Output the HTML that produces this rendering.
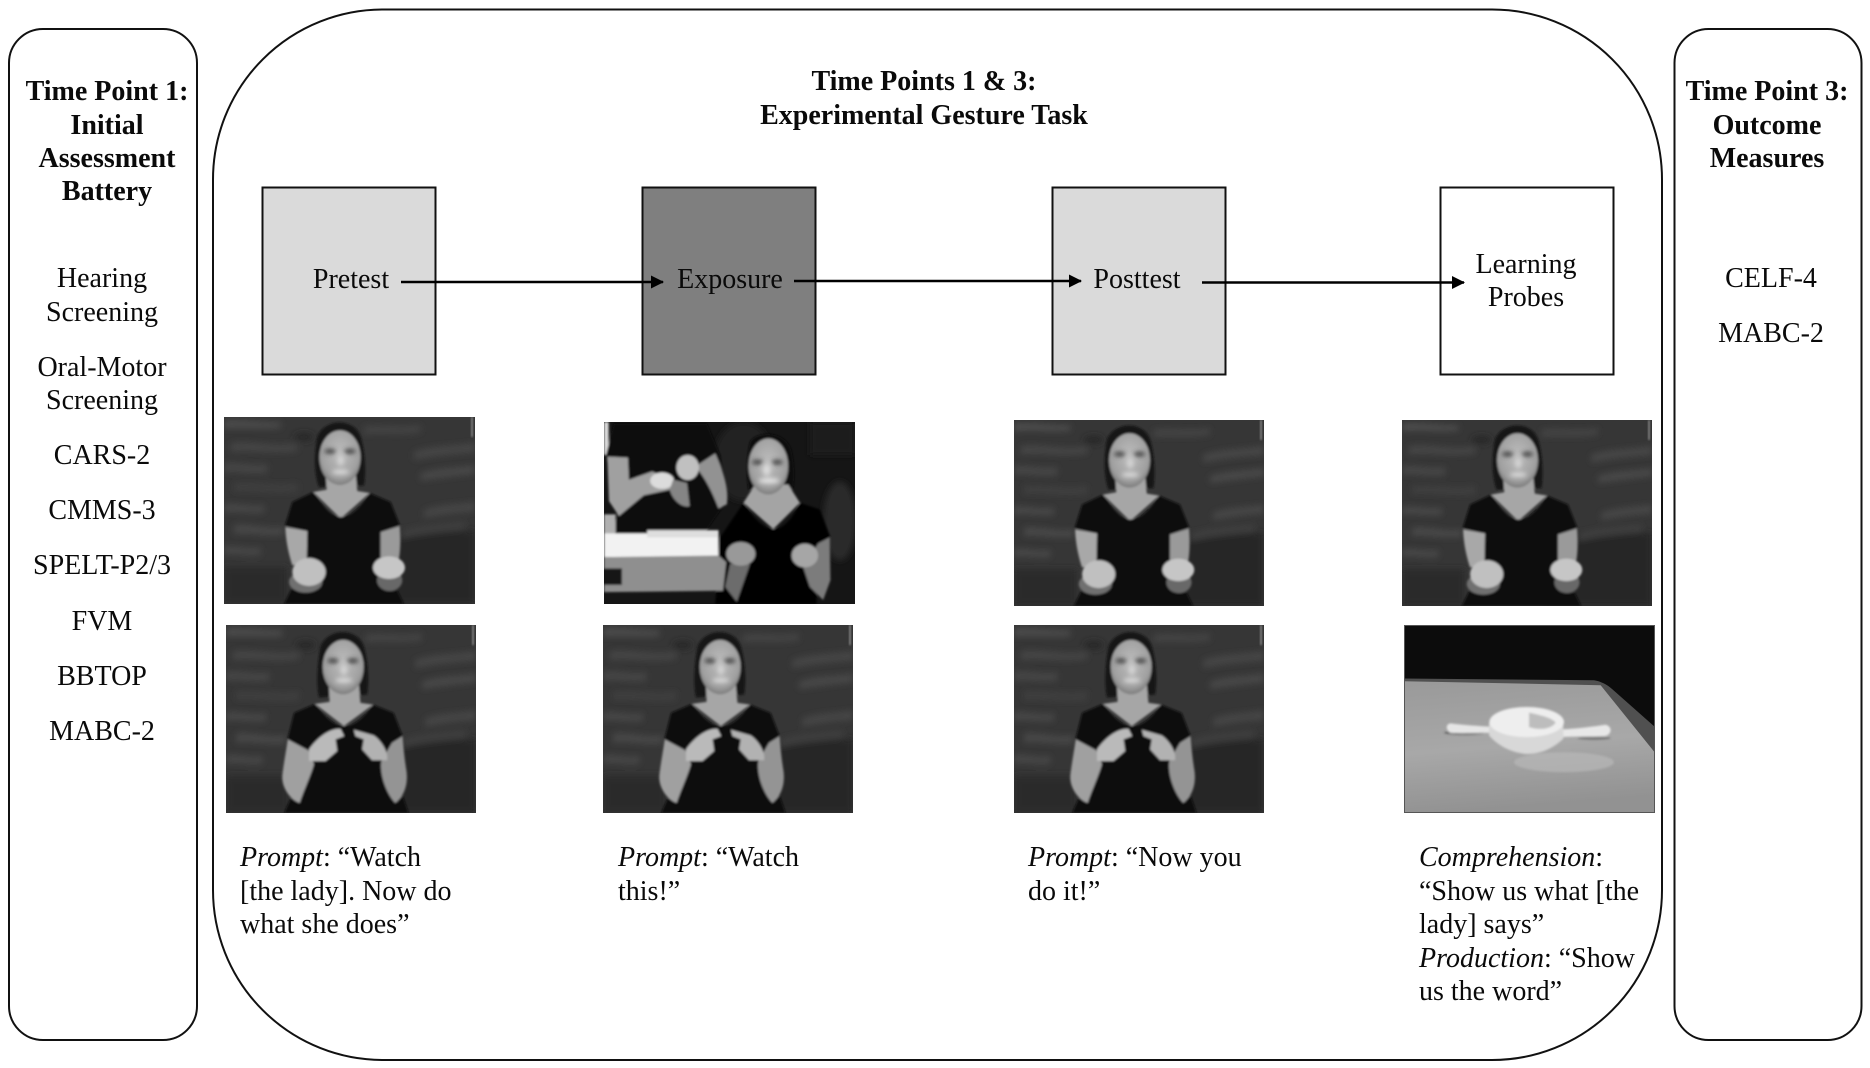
<!DOCTYPE html>
<html><head><meta charset="utf-8"><title>Experimental Gesture Task</title>
<style>
html,body{margin:0;padding:0;background:#fff;width:1870px;height:1068px;overflow:hidden}
svg{display:block}
text{font-family:"Liberation Serif",serif;font-size:28px;fill:#0a0a0a}
.b{font-weight:bold}
.m{text-anchor:middle}
</style></head><body>
<svg width="1870" height="1068" viewBox="0 0 1870 1068" xmlns="http://www.w3.org/2000/svg">
<defs>
<filter id="b1" x="-5%" y="-5%" width="110%" height="110%"><feGaussianBlur stdDeviation="3.5"/></filter>
<filter id="b3" x="-40%" y="-40%" width="180%" height="180%"><feGaussianBlur stdDeviation="7"/></filter>
<filter id="b2" x="-20%" y="-40%" width="140%" height="180%"><feGaussianBlur stdDeviation="10"/></filter>
<linearGradient id="tb" x1="0" y1="0" x2="0.15" y2="1"><stop offset="0" stop-color="#999"/><stop offset=".55" stop-color="#a8a8a8"/><stop offset="1" stop-color="#929292"/></linearGradient>
<radialGradient id="face" cx=".5" cy=".42" r=".6"><stop offset="0" stop-color="#bdbdbd"/><stop offset=".75" stop-color="#a0a0a0"/><stop offset="1" stop-color="#787878"/></radialGradient>
<marker id="ah" markerUnits="userSpaceOnUse" markerWidth="14" markerHeight="14" refX="12" refY="6.5" orient="auto"><path d="M0,0L13,6.5L0,13z" fill="#000"/></marker>

<symbol id="bg" viewBox="0 0 753 561" preserveAspectRatio="none">
<rect width="753" height="561" fill="#363636"/>
<g filter="url(#b2)">
<rect x="430" y="340" width="323" height="221" fill="#282828"/>
<rect x="0" y="450" width="190" height="111" fill="#2b2b2b"/>
<path d="M0,10C60,5 130,20 170,15L170,32C110,36 50,30 0,34Z" fill="#4d4d4d"/>
<path d="M20,80C80,70 160,95 220,80L220,100C150,112 70,95 20,104Z" fill="#474747"/>
<path d="M0,140C40,135 90,150 130,142L130,165C80,172 40,160 0,165Z" fill="#464646"/>
<path d="M30,200C90,195 170,210 220,200L220,222C150,230 90,218 30,222Z" fill="#414141"/>
<path d="M0,262C40,258 80,272 120,265L120,285C70,290 40,280 0,285Z" fill="#4a4a4a"/>
<path d="M30,325C90,320 130,340 180,330L180,352C120,358 80,345 30,350Z" fill="#484848"/>
<path d="M0,390C40,385 70,400 110,392L110,412C70,418 30,405 0,412Z" fill="#4a4a4a"/>
<path d="M570,105C630,85 690,90 753,78L753,105C690,110 630,115 570,128Z" fill="#474747"/>
<path d="M590,170C650,150 700,155 753,145L753,170C700,175 650,182 590,190Z" fill="#484848"/>
<path d="M600,280C650,262 700,265 753,255L753,282C700,285 650,292 600,302Z" fill="#474747"/>
<path d="M530,345C590,325 650,325 720,315L720,338C650,345 590,350 530,365Z" fill="#3f3f3f"/>
<path d="M420,30C470,22 530,35 590,25L590,45C530,55 470,45 420,52Z" fill="#454545"/>
<ellipse cx="240" cy="60" rx="30" ry="12" fill="#262626"/>
</g>
<rect x="740" y="0" width="8" height="60" fill="#777" filter="url(#b1)"/>
</symbol>

<symbol id="poseA" viewBox="0 0 753 561" preserveAspectRatio="none">
<use href="#bg" width="753" height="561"/>
<g filter="url(#b1)">
<path d="M280,60C300,5 390,0 410,60C425,110 425,170 420,205L285,210C270,170 270,110 280,60Z" fill="#131313"/>
<path d="M305,170L395,170L400,222L437,228L350,305L268,225L308,218Z" fill="#a6a6a6"/>
<ellipse cx="348" cy="122" rx="62" ry="82" fill="url(#face)"/>
<path d="M268,225C295,262 320,300 350,300C385,300 415,262 437,228L500,255L528,325L470,345L470,420L540,561L180,561L225,470L250,345L183,325L205,255Z" fill="#0c0c0c"/>
<path d="M184,330L250,342L248,435L205,445C190,400 185,360 184,330Z" fill="#a8a8a8"/>
<path d="M470,345L527,327C530,360 530,395 525,425L470,425Z" fill="#9a9a9a"/>
<ellipse cx="245" cy="495" rx="50" ry="32" fill="#707070"/>
<ellipse cx="497" cy="490" rx="38" ry="32" fill="#686868"/>
<ellipse cx="255" cy="465" rx="50" ry="42" fill="#c0c0c0"/>
<ellipse cx="495" cy="452" rx="48" ry="34" fill="#c6c6c6"/>
</g>
<g filter="url(#b3)">
<ellipse cx="318" cy="103" rx="17" ry="7" fill="#3a3a3a"/><ellipse cx="378" cy="103" rx="17" ry="7" fill="#3a3a3a"/>
<ellipse cx="350" cy="165" rx="26" ry="7" fill="#dcdcdc"/>
<ellipse cx="350" cy="130" rx="10" ry="16" fill="#d5d5d5"/>
</g>
</symbol>

<symbol id="poseB" viewBox="0 0 753 567" preserveAspectRatio="none">
<use href="#bg" width="753" height="567"/>
<g filter="url(#b1)">
<path d="M285,65C305,10 395,5 415,65C430,115 430,175 425,210L280,218C272,180 275,115 285,65Z" fill="#131313"/>
<path d="M310,180L400,180L405,235L443,240L355,305L268,238L312,232Z" fill="#a6a6a6"/>
<ellipse cx="353" cy="127" rx="62" ry="82" fill="url(#face)"/>
<path d="M268,238C295,272 325,305 355,305C390,305 420,272 443,240L505,265L532,335L505,355L500,420L550,567L175,567L240,420L230,375L185,345L205,265Z" fill="#0c0c0c"/>
<path d="M186,345L248,378C255,395 262,410 265,420C255,455 232,505 222,537C190,525 165,485 170,450C175,410 182,375 186,345Z" fill="#a0a0a0"/>
<path d="M532,335L500,355L468,410C462,445 480,505 510,537C542,512 550,470 542,430C537,395 534,365 532,335Z" fill="#949494"/>
<path d="M250,375C270,345 310,310 345,313L356,335L330,345L335,380L300,410L250,410Z" fill="#bababa"/>
<path d="M385,316L445,333C470,350 490,385 485,408L440,408L410,375L415,345L390,335Z" fill="#b2b2b2"/>
</g>
<g filter="url(#b3)">
<ellipse cx="322" cy="108" rx="17" ry="7" fill="#3a3a3a"/><ellipse cx="382" cy="108" rx="17" ry="7" fill="#3a3a3a"/>
<ellipse cx="355" cy="167" rx="26" ry="7" fill="#dcdcdc"/>
<ellipse cx="355" cy="135" rx="10" ry="16" fill="#d5d5d5"/>
</g>
</symbol>

<symbol id="demo" viewBox="0 0 756 552" preserveAspectRatio="none">
<rect width="756" height="552" fill="#151515"/>
<g filter="url(#b2)"><ellipse cx="420" cy="120" rx="90" ry="120" fill="#222"/><ellipse cx="710" cy="300" rx="50" ry="120" fill="#2a2a2a"/><rect x="620" y="0" width="136" height="100" fill="#1e1e1e"/></g>
<g filter="url(#b1)">
<rect x="0" y="0" width="14" height="100" fill="#ddd"/>
<path d="M6,100L30,5L310,5L350,100L370,240L300,340L20,340L40,290Z" fill="#080808"/>
<path d="M10,105L72,108L75,175L145,150L205,175L200,205L120,222L45,285L15,240Z" fill="#a0a0a0"/>
<path d="M275,135L335,95C355,140 378,200 370,250L345,262C325,210 305,170 275,135Z" fill="#929292"/>
<ellipse cx="252" cy="138" rx="34" ry="38" fill="#c0c0c0"/>
<ellipse cx="175" cy="178" rx="36" ry="25" fill="#dcdcdc"/>
<path d="M208,175L250,185L258,255C235,262 205,235 198,205Z" fill="#858585"/>
<rect x="0" y="280" width="35" height="60" fill="#b0b0b0"/>
<path d="M440,60C460,25 550,25 565,90C575,140 575,180 565,220L435,205C428,160 430,100 440,60Z" fill="#0d0d0d"/>
<path d="M455,190L555,190L590,245L510,325L420,245Z" fill="#a4a4a4"/>
<ellipse cx="495" cy="135" rx="60" ry="85" fill="url(#face)"/>
<path d="M420,245C445,285 480,325 510,325C545,325 575,280 590,245L650,265L682,350L645,368L640,552L335,552L350,350Z" fill="#050505"/>
<path d="M645,368L680,350L682,480L660,540L620,500L600,440Z" fill="#7c7c7c"/>
<path d="M380,430L440,430L400,545L365,500Z" fill="#6c6c6c"/>
<ellipse cx="412" cy="400" rx="44" ry="36" fill="#999"/>
<ellipse cx="605" cy="405" rx="40" ry="36" fill="#a6a6a6"/>
<rect x="0" y="338" width="345" height="72" fill="#f2f2f2"/>
<rect x="130" y="328" width="215" height="22" fill="#dedede"/>
<path d="M0,410L345,405L368,425L358,512L0,516Z" fill="#8f8f8f"/>
<rect x="0" y="444" width="54" height="50" fill="#121212"/>
</g>
<g filter="url(#b3)">
<ellipse cx="462" cy="122" rx="17" ry="7" fill="#3a3a3a"/><ellipse cx="522" cy="122" rx="17" ry="7" fill="#3a3a3a"/>
<ellipse cx="497" cy="178" rx="32" ry="8" fill="#e6e6e6"/>
<ellipse cx="490" cy="145" rx="12" ry="18" fill="#dcdcdc"/>
</g>
</symbol>

<symbol id="obj" viewBox="0 0 753 562" preserveAspectRatio="none">
<rect width="753" height="562" fill="#0c0c0c"/>
<path d="M0,163L590,175L753,380L753,562L0,562Z" fill="url(#tb)"/>
<path d="M0,160L570,165C590,168 610,178 625,192L753,305L753,382L590,180L0,168Z" fill="#505050"/>
<g filter="url(#b1)">
<ellipse cx="480" cy="410" rx="150" ry="30" fill="#b8b8b8" opacity=".7"/>
<ellipse cx="180" cy="322" rx="60" ry="6" fill="#444" opacity=".7"/>
<ellipse cx="570" cy="338" rx="50" ry="5" fill="#555" opacity=".6"/>
<path d="M138,294C170,298 220,302 275,305L275,322C220,322 170,325 138,322C125,312 125,298 138,294Z" fill="#e6e6e6"/>
<path d="M470,312C520,310 570,303 605,298C625,303 625,325 605,332C560,335 515,332 470,335Z" fill="#e8e8e8"/>
<path d="M255,292L478,292L478,340C440,375 400,388 360,385C320,380 280,360 255,330Z" fill="#d8d8d8"/>
<ellipse cx="368" cy="290" rx="112" ry="45" fill="#eeeeee"/>
<path d="M375,262C410,270 445,278 455,292C440,312 405,315 375,305Z" fill="#bdbdbd"/>
</g>
</symbol>
</defs>

<rect width="1870" height="1068" fill="#fff"/>

<rect x="9" y="29" width="188" height="1011" rx="34" ry="34" fill="#fff" stroke="#111" stroke-width="2"/>
<rect x="1674.5" y="29" width="187" height="1011" rx="34" ry="34" fill="#fff" stroke="#111" stroke-width="2"/>
<rect x="213" y="9.5" width="1449" height="1050.5" rx="170" ry="170" fill="#fff" stroke="#111" stroke-width="2"/>

<rect x="262.5" y="187.5" width="173" height="187" fill="#dadada" stroke="#111" stroke-width="2"/>
<rect x="642.5" y="187.5" width="173" height="187" fill="#7f7f7f" stroke="#111" stroke-width="2"/>
<rect x="1052.5" y="187.5" width="173" height="187" fill="#dadada" stroke="#111" stroke-width="2"/>
<rect x="1440.5" y="187.5" width="173" height="187" fill="#fff" stroke="#111" stroke-width="2"/>

<line x1="401" y1="282" x2="663" y2="282" stroke="#000" stroke-width="2.6" marker-end="url(#ah)"/>
<line x1="794" y1="281" x2="1081" y2="281" stroke="#000" stroke-width="2.6" marker-end="url(#ah)"/>
<line x1="1202" y1="282.5" x2="1464" y2="282.5" stroke="#000" stroke-width="2.6" marker-end="url(#ah)"/>

<use href="#poseA" x="224" y="417" width="251" height="187"/>
<use href="#demo" x="604" y="422" width="251" height="182"/>
<use href="#poseA" x="1014" y="420" width="250" height="186"/>
<use href="#poseA" x="1402" y="420" width="250" height="186"/>
<use href="#poseB" x="226" y="625" width="250" height="188"/>
<use href="#poseB" x="603" y="625" width="250" height="188"/>
<use href="#poseB" x="1014" y="625" width="250" height="188"/>
<use href="#obj" x="1404" y="625" width="251" height="188"/>
<rect x="1404.5" y="625.5" width="250" height="187" fill="none" stroke="#555" stroke-width="1"/>

<text class="b m" x="107" y="100">Time Point 1:</text>
<text class="b m" x="107" y="134">Initial</text>
<text class="b m" x="107" y="167">Assessment</text>
<text class="b m" x="107" y="200">Battery</text>
<text class="m" x="102" y="287">Hearing</text>
<text class="m" x="102" y="321">Screening</text>
<text class="m" x="102" y="376">Oral-Motor</text>
<text class="m" x="102" y="409">Screening</text>
<text class="m" x="102" y="464">CARS-2</text>
<text class="m" x="102" y="519">CMMS-3</text>
<text class="m" x="102" y="574">SPELT-P2/3</text>
<text class="m" x="102" y="630">FVM</text>
<text class="m" x="102" y="685">BBTOP</text>
<text class="m" x="102" y="740">MABC-2</text>

<text class="b m" x="924" y="90">Time Points 1 &amp; 3:</text>
<text class="b m" x="924" y="124">Experimental Gesture Task</text>

<text class="m" x="351" y="288">Pretest</text>
<text class="m" x="730" y="288">Exposure</text>
<text class="m" x="1137" y="288">Posttest</text>
<text class="m" x="1526" y="273">Learning</text>
<text class="m" x="1526" y="306">Probes</text>

<text x="240" y="866"><tspan font-style="italic">Prompt</tspan>: “Watch</text>
<text x="240" y="900">[the lady]. Now do</text>
<text x="240" y="933">what she does”</text>
<text x="618" y="866"><tspan font-style="italic">Prompt</tspan>: “Watch</text>
<text x="618" y="900">this!”</text>
<text x="1028" y="866"><tspan font-style="italic">Prompt</tspan>: “Now you</text>
<text x="1028" y="900">do it!”</text>
<text x="1419" y="866"><tspan font-style="italic">Comprehension</tspan>:</text>
<text x="1419" y="900">“Show us what [the</text>
<text x="1419" y="933">lady] says”</text>
<text x="1419" y="967"><tspan font-style="italic">Production</tspan>: “Show</text>
<text x="1419" y="1000">us the word”</text>

<text class="b m" x="1767" y="100">Time Point 3:</text>
<text class="b m" x="1767" y="134">Outcome</text>
<text class="b m" x="1767" y="167">Measures</text>
<text class="m" x="1771" y="287">CELF-4</text>
<text class="m" x="1771" y="342">MABC-2</text>
</svg>
</body></html>
